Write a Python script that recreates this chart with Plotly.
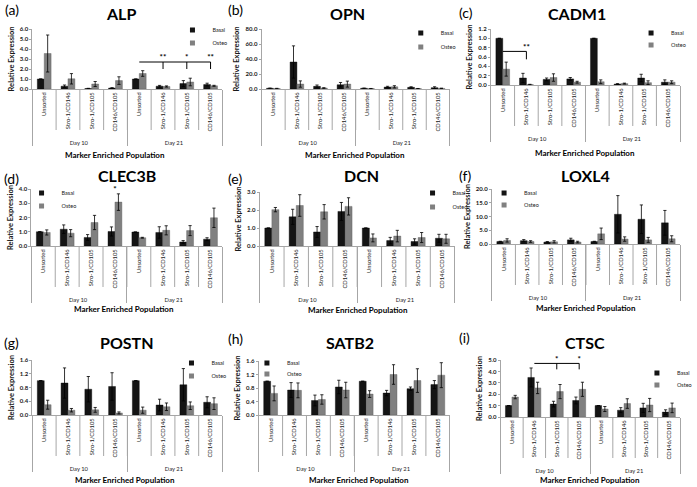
import plotly.graph_objects as go

# ---------------- data ----------------
CATEGORIES = ["Unsorted", "Stro-1/CD146", "Stro-1/CD105", "CD146/CD105"]
DAYS = ["Day 10", "Day 21"]
SERIES = ["Basal", "Osteo"]

ALP_BASAL = [1.00, 0.28, 0.05, 0.10, 1.00, 0.28, 0.54, 0.44]
ALP_BASAL_ERR = [0.00, 0.12, 0.02, 0.03, 0.00, 0.08, 0.30, 0.14]
ALP_OSTEO = [3.55, 1.02, 0.50, 0.84, 1.55, 0.25, 0.70, 0.32]
ALP_OSTEO_ERR = [1.85, 0.52, 0.25, 0.38, 0.28, 0.06, 0.38, 0.05]

OPN_BASAL = [1.0, 36.0, 3.5, 5.7, 1.0, 2.6, 2.2, 1.8]
OPN_BASAL_ERR = [0.2, 21.5, 1.8, 3.0, 0.1, 1.0, 0.8, 1.2]
OPN_OSTEO = [0.6, 6.6, 1.3, 6.5, 0.5, 2.9, 0.5, 0.8]
OPN_OSTEO_ERR = [0.3, 4.2, 0.4, 4.0, 0.2, 1.5, 0.2, 0.3]

CADM1_BASAL = [1.00, 0.15, 0.12, 0.13, 1.00, 0.02, 0.15, 0.06]
CADM1_BASAL_ERR = [0.00, 0.10, 0.03, 0.03, 0.00, 0.01, 0.08, 0.05]
CADM1_OSTEO = [0.34, 0.01, 0.16, 0.06, 0.07, 0.03, 0.05, 0.06]
CADM1_OSTEO_ERR = [0.15, 0.005, 0.08, 0.02, 0.04, 0.01, 0.04, 0.03]

CLEC3B_BASAL = [1.00, 1.18, 0.60, 1.02, 0.98, 0.95, 0.28, 0.48]
CLEC3B_BASAL_ERR = [0.00, 0.30, 0.20, 0.32, 0.00, 0.40, 0.10, 0.10]
CLEC3B_OSTEO = [0.95, 0.90, 1.65, 3.08, 0.58, 1.10, 1.08, 1.98]
CLEC3B_OSTEO_ERR = [0.18, 0.25, 0.50, 0.58, 0.03, 0.32, 0.35, 0.68]

DCN_BASAL = [1.00, 1.62, 0.78, 1.92, 1.00, 0.30, 0.25, 0.43]
DCN_BASAL_ERR = [0.00, 0.42, 0.30, 0.50, 0.00, 0.18, 0.15, 0.22]
DCN_OSTEO = [2.02, 2.25, 1.90, 2.20, 0.45, 0.55, 0.47, 0.40]
DCN_OSTEO_ERR = [0.12, 0.60, 0.40, 0.48, 0.22, 0.32, 0.28, 0.25]

LOXL4_BASAL = [0.9, 1.2, 0.7, 1.5, 0.9, 10.8, 9.0, 7.7]
LOXL4_BASAL_ERR = [0.1, 0.4, 0.2, 0.6, 0.1, 6.8, 5.2, 4.5]
LOXL4_OSTEO = [1.3, 0.9, 0.8, 0.7, 3.7, 1.8, 1.5, 1.9]
LOXL4_OSTEO_ERR = [0.6, 0.3, 0.4, 0.3, 2.1, 0.8, 0.9, 1.1]

POSTN_BASAL = [1.00, 0.93, 0.75, 0.83, 1.00, 0.29, 0.88, 0.37]
POSTN_BASAL_ERR = [0.00, 0.44, 0.37, 0.40, 0.00, 0.17, 0.47, 0.16]
POSTN_OSTEO = [0.30, 0.14, 0.15, 0.06, 0.14, 0.24, 0.27, 0.33]
POSTN_OSTEO_ERR = [0.13, 0.05, 0.07, 0.03, 0.09, 0.11, 0.11, 0.17]

SATB2_BASAL = [1.00, 0.74, 0.43, 0.83, 1.00, 0.65, 0.78, 0.90]
SATB2_BASAL_ERR = [0.00, 0.22, 0.16, 0.20, 0.00, 0.08, 0.05, 0.12]
SATB2_OSTEO = [0.64, 0.73, 0.46, 0.74, 0.62, 1.20, 1.02, 1.18]
SATB2_OSTEO_ERR = [0.22, 0.22, 0.14, 0.23, 0.10, 0.29, 0.35, 0.37]

CTSC_BASAL = [1.00, 3.47, 1.13, 1.45, 1.00, 0.60, 0.80, 0.43]
CTSC_BASAL_ERR = [0.00, 0.83, 0.25, 0.30, 0.00, 0.22, 0.40, 0.20]
CTSC_OSTEO = [1.75, 2.55, 2.23, 2.43, 0.70, 1.18, 1.05, 0.80]
CTSC_OSTEO_ERR = [0.15, 0.50, 0.62, 0.62, 0.22, 0.42, 0.58, 0.42]

# significance marks: bracket start/end index, bracket level, drop indices, drop level, stars
ALP_SIG_SPAN = [4, 7]
ALP_SIG_LEVEL = [2.7, 2.0]
ALP_SIG_DROPS = [5, 6, 7]
ALP_SIG_STARS = ["**", "*", "**"]
ALP_STAR_LEVEL = 3.15

CADM1_SIG_SPAN = [0, 1]
CADM1_SIG_LEVEL = [0.72, 0.55]
CADM1_SIG_DROPS = [1]
CADM1_SIG_STARS = ["**"]
CADM1_STAR_LEVEL = 0.80

CLEC3B_SIG_STARS_AT = [3]
CLEC3B_SIG_STARS = ["*"]
CLEC3B_STAR_LEVEL = 3.9

CTSC_SIG_SPAN = [1, 3]
CTSC_SIG_LEVEL = [4.7, 4.18]
CTSC_SIG_DROPS = [2, 3]
CTSC_SIG_STARS = ["*", "*"]
CTSC_STAR_LEVEL = 4.98

# ---------------- styling / layout ----------------
W, H = 697, 487
FONT = "Lato"
BASAL_COLOR = "#141414"
OSTEO_COLOR = "#808080"
AXIS_GRAY = "#a6a6a6"
TEXT = "#1a1a1a"

DAY_OF = [d for d in DAYS for _ in CATEGORIES]
CAT_OF = [c for _ in DAYS for c in CATEGORIES]


def mc(idx):
    return [[DAY_OF[i] for i in idx], [CAT_OF[i] for i in idx]]


PANELS = [
    dict(gene="ALP", letter="(a)", b=ALP_BASAL, be=ALP_BASAL_ERR, o=ALP_OSTEO, oe=ALP_OSTEO_ERR,
         ymax=6, dtick=1, box=(33, 227, 29, 89), title=(123, 13), let=(3, 10), xt=(117, 155),
         leg=(176, 30, 43),
         sig=dict(span=ALP_SIG_SPAN, level=ALP_SIG_LEVEL, drops=ALP_SIG_DROPS,
                  stars=ALP_SIG_STARS, star_at=ALP_SIG_DROPS, star_level=ALP_STAR_LEVEL)),
    dict(gene="OPN", letter="(b)", b=OPN_BASAL, be=OPN_BASAL_ERR, o=OPN_OSTEO, oe=OPN_OSTEO_ERR,
         ymax=80, dtick=20, box=(267, 459, 29, 89), title=(355, 13), let=(231, 10), xt=(362, 155),
         leg=(409, 33, 47), sig=None),
    dict(gene="CADM1", letter="(c)", b=CADM1_BASAL, be=CADM1_BASAL_ERR, o=CADM1_OSTEO, oe=CADM1_OSTEO_ERR,
         ymax=1.2, dtick=0.2, box=(501, 694, 29, 85), title=(589, 14), let=(466, 12), xt=(597, 153),
         leg=(644, 33, 45),
         sig=dict(span=CADM1_SIG_SPAN, level=CADM1_SIG_LEVEL, drops=CADM1_SIG_DROPS,
                  stars=CADM1_SIG_STARS, star_at=CADM1_SIG_DROPS, star_level=CADM1_STAR_LEVEL)),
    dict(gene="CLEC3B", letter="(d)", b=CLEC3B_BASAL, be=CLEC3B_BASAL_ERR, o=CLEC3B_OSTEO, oe=CLEC3B_OSTEO_ERR,
         ymax=4, dtick=1, box=(32, 227, 189, 246), title=(130, 175), let=(2, 178), xt=(127, 309),
         leg=(22, 193, 206),
         sig=dict(span=None, level=None, drops=[], stars=CLEC3B_SIG_STARS,
                  star_at=CLEC3B_SIG_STARS_AT, star_level=CLEC3B_STAR_LEVEL)),
    dict(gene="DCN", letter="(e)", b=DCN_BASAL, be=DCN_BASAL_ERR, o=DCN_OSTEO, oe=DCN_OSTEO_ERR,
         ymax=3, dtick=1, box=(265, 464, 192, 246), title=(369, 175), let=(231, 178), xt=(365, 310),
         leg=(421, 193, 207), sig=None),
    dict(gene="LOXL4", letter="(f)", b=LOXL4_BASAL, be=LOXL4_BASAL_ERR, o=LOXL4_OSTEO, oe=LOXL4_OSTEO_ERR,
         ymax=20, dtick=5, box=(502, 694, 189, 244), title=(597, 175), let=(466, 175), xt=(598, 308),
         leg=(494, 193, 205), sig=None),
    dict(gene="POSTN", letter="(g)", b=POSTN_BASAL, be=POSTN_BASAL_ERR, o=POSTN_OSTEO, oe=POSTN_OSTEO_ERR,
         ymax=1.6, dtick=0.4, box=(33, 227, 360, 415), title=(130, 342), let=(2, 342), xt=(128, 480),
         leg=(175, 363, 376), sig=None),
    dict(gene="SATB2", letter="(h)", b=SATB2_BASAL, be=SATB2_BASAL_ERR, o=SATB2_OSTEO, oe=SATB2_OSTEO_ERR,
         ymax=1.6, dtick=0.4, box=(264, 459, 361, 415), title=(357, 342), let=(231, 338), xt=(366, 480),
         leg=(252, 363, 374), sig=None),
    dict(gene="CTSC", letter="(i)", b=CTSC_BASAL, be=CTSC_BASAL_ERR, o=CTSC_OSTEO, oe=CTSC_OSTEO_ERR,
         ymax=5, dtick=1, box=(511, 694, 360, 417), title=(597, 342), let=(466, 337), xt=(602, 480),
         leg=(650, 373, 385),
         sig=dict(span=CTSC_SIG_SPAN, level=CTSC_SIG_LEVEL, drops=CTSC_SIG_DROPS,
                  stars=CTSC_SIG_STARS, star_at=CTSC_SIG_DROPS, star_level=CTSC_STAR_LEVEL)),
]

SEP_LEN = 41  # px, inner category separators

fig = go.Figure()
layout = dict(
    width=W, height=H, margin=dict(l=0, r=0, t=0, b=0),
    paper_bgcolor="white", plot_bgcolor="white", template="none",
    barmode="group", bargap=0.42, bargroupgap=0.0,
    font=dict(family=FONT, color=TEXT),
    annotations=[], shapes=[],
)

for n, p in enumerate(PANELS, start=1):
    sx = "" if n == 1 else str(n)
    xa, ya = "x" + sx, "y" + sx
    x0, x1, yt, yb = p["box"]
    hpx = yb - yt

    fig.add_trace(go.Bar(
        x=[DAY_OF, CAT_OF], y=p["b"], name=SERIES[0], xaxis=xa, yaxis=ya, showlegend=False,
        marker=dict(color=BASAL_COLOR, line=dict(color="#000000", width=0.4)),
        error_y=dict(type="data", array=p["be"], color="#000000", thickness=0.8, width=1.6),
    ))
    fig.add_trace(go.Bar(
        x=[DAY_OF, CAT_OF], y=p["o"], name=SERIES[1], xaxis=xa, yaxis=ya, showlegend=False,
        marker=dict(color=OSTEO_COLOR, line=dict(color="#5a5a5a", width=0.4)),
        error_y=dict(type="data", array=p["oe"], color="#000000", thickness=0.8, width=1.6),
    ))

    # significance brackets
    sig = p["sig"]
    if sig:
        if sig["span"]:
            a, b = sig["span"]
            hi, lo = sig["level"]
            fig.add_trace(go.Scatter(x=mc([a, b]), y=[hi, hi], mode="lines", xaxis=xa, yaxis=ya,
                                     line=dict(color="#000000", width=1), showlegend=False,
                                     hoverinfo="skip", cliponaxis=False))
            for d in sig["drops"]:
                fig.add_trace(go.Scatter(x=mc([d, d]), y=[hi, lo], mode="lines", xaxis=xa, yaxis=ya,
                                         line=dict(color="#000000", width=1), showlegend=False,
                                         hoverinfo="skip", cliponaxis=False))
        fig.add_trace(go.Scatter(x=mc(sig["star_at"]), y=[sig["star_level"]] * len(sig["star_at"]),
                                 mode="text", text=sig["stars"], xaxis=xa, yaxis=ya,
                                 textfont=dict(size=8, color="#000000", family=FONT, weight="bold"),
                                 showlegend=False, hoverinfo="skip", cliponaxis=False))

    # legends: one legend box per entry so positions match
    lx, ly1, ly2 = p["leg"]
    for k, (ly, nm, col) in enumerate([(ly1, SERIES[0], BASAL_COLOR), (ly2, SERIES[1], OSTEO_COLOR)]):
        lid = 2 * n - 1 + k
        lname = "legend" if lid == 1 else f"legend{lid}"
        fig.add_trace(go.Scatter(x=[None], y=[None], mode="markers", name=nm,
                                 marker=dict(symbol="square", size=5, color=col),
                                 xaxis="x10", yaxis="y10", legend=lname, showlegend=True))
        layout[lname] = dict(x=lx / W, y=1 - ly / H, xanchor="left", yanchor="middle",
                             bgcolor="rgba(0,0,0,0)", borderwidth=0, itemwidth=30,
                             font=dict(size=5.5, family=FONT, color=TEXT))

    layout["xaxis" + sx] = dict(
        domain=[x0 / W, x1 / W], anchor=ya, type="multicategory", automargin=False,
        showline=True, linecolor=AXIS_GRAY, linewidth=1, ticks="", tickangle=-90,
        tickfont=dict(size=5.8, family=FONT, color=TEXT),
        showdividers=True, dividercolor=AXIS_GRAY, dividerwidth=1, showgrid=False, zeroline=False,
    )
    layout["yaxis" + sx] = dict(
        domain=[1 - yb / H, 1 - yt / H], anchor=xa, range=[0, p["ymax"]], dtick=p["dtick"],
        tickformat=".1f", automargin=False, showline=True, linecolor=AXIS_GRAY, linewidth=1,
        ticks="outside", ticklen=2, tickcolor=AXIS_GRAY, showgrid=False, zeroline=False,
        tickfont=dict(size=6, family=FONT, color=TEXT, weight="bold"),
        title=dict(text="Relative Expression", font=dict(size=7.5, family=FONT, color=TEXT, weight="bold"),
                   standoff=4),
    )

    # inner category separators below the axis
    for k in range(1, 8):
        layout["shapes"].append(dict(type="line", xref=xa + " domain", yref=ya + " domain",
                                     x0=k / 8, x1=k / 8, y0=0, y1=-SEP_LEN / hpx,
                                     line=dict(color=AXIS_GRAY, width=1)))

    tx, ty = p["title"]
    layout["annotations"].append(dict(text=p["gene"], x=tx / W, y=1 - ty / H, xref="paper", yref="paper",
                                      xanchor="center", yanchor="middle", showarrow=False,
                                      font=dict(size=16, family=FONT, color="#000000", weight="bold")))
    lx_, ly_ = p["let"]
    layout["annotations"].append(dict(text=p["letter"], x=lx_ / W, y=1 - ly_ / H, xref="paper", yref="paper",
                                      xanchor="left", yanchor="middle", showarrow=False,
                                      font=dict(size=14, family=FONT, color="#000000")))
    xx, xy = p["xt"]
    layout["annotations"].append(dict(text="Marker Enriched Population", x=xx / W, y=1 - xy / H,
                                      xref="paper", yref="paper", xanchor="center", yanchor="middle",
                                      showarrow=False,
                                      font=dict(size=8, family=FONT, color="#000000", weight="bold")))

layout["xaxis10"] = dict(domain=[0, 0.001], anchor="y10", visible=False)
layout["yaxis10"] = dict(domain=[0, 0.001], anchor="x10", visible=False)

fig.update_layout(**layout)
fig.write_html(
    "out.html",
    config={"displayModeBar": False},
    post_script="document.body.style.margin='0px';document.body.style.overflow='hidden';",
)
